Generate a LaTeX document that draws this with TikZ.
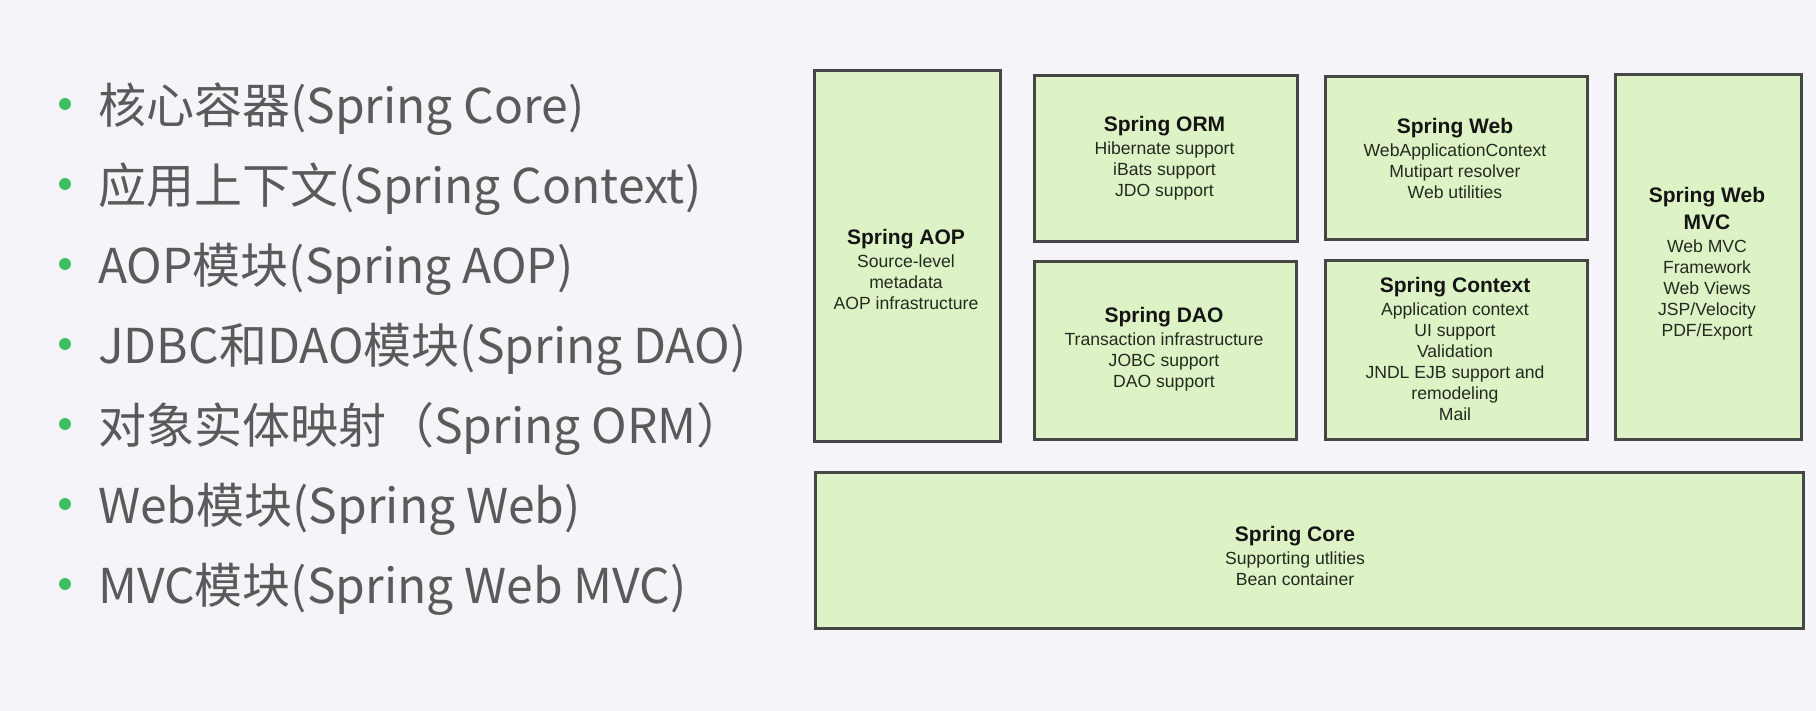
\documentclass[tikz,border=0pt]{standalone}
\usepackage{fontspec}
\setmainfont{Liberation Sans}
\newfontfamily\cjk{Noto Sans CJK SC}
\definecolor{bgc}{HTML}{F5F4F8}
\definecolor{boxfill}{HTML}{DDF3C5}
\definecolor{boxdraw}{HTML}{464646}
\definecolor{bulletc}{HTML}{3FBF5F}
\definecolor{lefttext}{HTML}{5A5A5A}
\definecolor{bodytext}{HTML}{242A20}
\definecolor{titletext}{HTML}{141414}
\newcommand\modtitle[1]{{\fontsize{21}{23}\selectfont\bfseries\color{titletext}#1}}
\begin{document}
\begin{tikzpicture}[x=1pt,y=-1pt,
  module/.style={draw=boxdraw, line width=2.6pt, fill=boxfill, inner sep=0pt, anchor=north west},
  modtext/.style={align=center, font=\fontsize{17.6}{21}\selectfont, text=bodytext, inner sep=0pt},
  item/.style={anchor=west, font=\cjk\fontsize{48}{50}\selectfont, text=lefttext, inner sep=0pt},
  dot/.style={circle, fill=bulletc, minimum size=12pt, inner sep=0pt}]
\fill[bgc] (0,0) rectangle (1816,711);
\useasboundingbox (0,0) rectangle (1816,711);

% left list
\node[dot] (b1) at (65,104) {};
\node[item] (i1) at (98,109) {核心容器(Spring Core)};
\node[dot] (b2) at (65,184) {};
\node[item] (i2) at (98,189) {应用上下文(Spring Context)};
\node[dot] (b3) at (65,264) {};
\node[item] (i3) at (98,269) {AOP模块(Spring AOP)};
\node[dot] (b4) at (65,344) {};
\node[item] (i4) at (98,349) {JDBC和DAO模块(Spring DAO)};
\node[dot] (b5) at (65,424) {};
\node[item] (i5) at (98,429) {对象实体映射（Spring ORM）};
\node[dot] (b6) at (65,504) {};
\node[item] (i6) at (98,509) {Web模块(Spring Web)};
\node[dot] (b7) at (65,584) {};
\node[item] (i7) at (98,589) {MVC模块(Spring Web MVC)};

% module boxes
\node[module, minimum width=186pt, minimum height=371pt] (aop) at (813,69) {};
\node[module, minimum width=263pt, minimum height=166pt] (orm) at (1033,74) {};
\node[module, minimum width=262pt, minimum height=178pt] (dao) at (1033,260) {};
\node[module, minimum width=262pt, minimum height=163pt] (web) at (1324,75) {};
\node[module, minimum width=262pt, minimum height=179pt] (ctx) at (1324,259) {};
\node[module, minimum width=186pt, minimum height=365pt] (mvc) at (1614,73) {};
\node[module, minimum width=988pt, minimum height=156pt] (core) at (814,471) {};

% module texts
\node[modtext] (aopt) at (906,269) {\modtitle{Spring AOP}\\[2pt]Source-level\\metadata\\AOP infrastructure};
\node[modtext] (ormt) at (1164.5,158) {\modtitle{Spring ORM}\\[2pt]Hibernate support\\iBats support\\JDO support};
\node[modtext] (daot) at (1164,349) {\modtitle{Spring DAO}\\[2pt]Transaction infrastructure\\JOBC support\\DAO support};
\node[modtext] (webt) at (1455,158) {\modtitle{Spring Web}\\[2pt]WebApplicationContext\\Mutipart resolver\\Web utilities};
\node[modtext] (ctxt) at (1455,348.5) {\modtitle{Spring Context}\\[2pt]Application context\\UI support\\Validation\\JNDL EJB support and\\remodeling\\Mail};
\node[modtext] (mvct) at (1707,264) {\modtitle{Spring Web}\\[6pt]\modtitle{MVC}\\[2pt]Web MVC\\Framework\\Web Views\\JSP/Velocity\\PDF/Export};
\node[modtext] (coret) at (1295,556) {\modtitle{Spring Core}\\[2pt]Supporting utlities\\Bean container};
\end{tikzpicture}
\end{document}
